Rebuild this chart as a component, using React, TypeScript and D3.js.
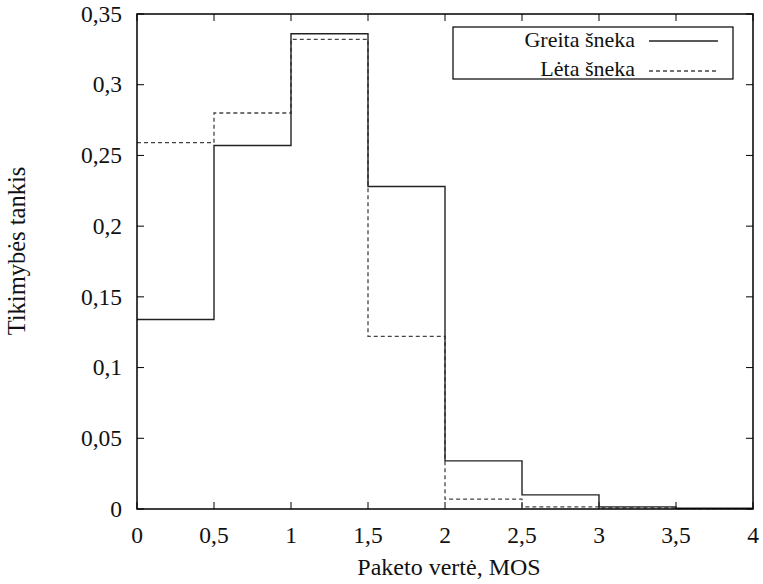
import React from "react";
import * as d3 from "d3";

const binEdges = [0, 0.5, 1, 1.5, 2, 2.5, 3, 3.5, 4];
const greita = [0.134, 0.257, 0.336, 0.228, 0.034, 0.01, 0.0015, 0.0005];
const leta = [0.259, 0.28, 0.332, 0.122, 0.007, 0.0015, 0.0008, 0.0002];
const xTicks = [0, 0.5, 1, 1.5, 2, 2.5, 3, 3.5, 4];
const yTicks = [0, 0.05, 0.1, 0.15, 0.2, 0.25, 0.3, 0.35];
const seriesNames = ["Greita šneka", "Lėta šneka"];

const W = 763, H = 584;
const left = 137, right = 753, top = 14, bottom = 509;

const fmt = (v: number) => String(v).replace(".", ",");

export default function App() {
  const x = d3.scaleLinear().domain([0, 4]).range([left, right]);
  const y = d3.scaleLinear().domain([0, 0.35]).range([bottom, top]);

  const stepPath = (vals: number[]) => {
    const pts: [number, number][] = [];
    vals.forEach((v, i) => {
      pts.push([binEdges[i], v]);
      pts.push([binEdges[i + 1], v]);
    });
    return d3.line<[number, number]>().x(d => x(d[0])).y(d => y(d[1]))(pts) || "";
  };

  const font = '"Liberation Serif", "DejaVu Serif", serif';
  const tl = 7;

  return (
    <svg width={W} height={H} style={{ position: "absolute", left: 0, top: 0, background: "#fff", fontFamily: font }}>
      <g style={{ fontFamily: font }} fill="#111">
        {yTicks.map(t => (
          <g key={"y" + t}>
            <line x1={left} x2={left + tl} y1={y(t)} y2={y(t)} stroke="#000" strokeWidth={1} />
            <line x1={right} x2={right - tl} y1={y(t)} y2={y(t)} stroke="#000" strokeWidth={1} />
            <text x={left - 15} y={y(t)} dy="0.33em" textAnchor="end" fontSize={23.5}>{fmt(t)}</text>
          </g>
        ))}
        {xTicks.map(t => (
          <g key={"x" + t}>
            <line x1={x(t)} x2={x(t)} y1={bottom} y2={bottom - tl} stroke="#000" strokeWidth={1} />
            <line x1={x(t)} x2={x(t)} y1={top} y2={top + tl} stroke="#000" strokeWidth={1} />
            <text x={x(t)} y={543} textAnchor="middle" fontSize={23.5}>{fmt(t)}</text>
          </g>
        ))}
        <path d={stepPath(leta)} fill="none" stroke="#444" strokeWidth={1.3} strokeDasharray="4,3" />
        <path d={stepPath(greita)} fill="none" stroke="#222" strokeWidth={1.4} />
        <rect x={left} y={top} width={right - left} height={bottom - top} fill="none" stroke="#000" strokeWidth={1.5} />
        <text x={449} y={575} textAnchor="middle" fontSize={24}>Paketo vertė, MOS</text>
        <text transform={`translate(25, 251) rotate(-90)`} textAnchor="middle" fontSize={24.5}>Tikimybės tankis</text>
        <rect x={453} y={27} width={280} height={52} fill="#fff" stroke="#000" strokeWidth={1.2} />
        <text x={635} y={47} textAnchor="end" fontSize={22}>{seriesNames[0]}</text>
        <line x1={649} x2={718} y1={41} y2={41} stroke="#222" strokeWidth={1.4} />
        <text x={635} y={76} textAnchor="end" fontSize={22}>{seriesNames[1]}</text>
        <line x1={649} x2={718} y1={71} y2={71} stroke="#444" strokeWidth={1.3} strokeDasharray="4,3" />
      </g>
    </svg>
  );
}
